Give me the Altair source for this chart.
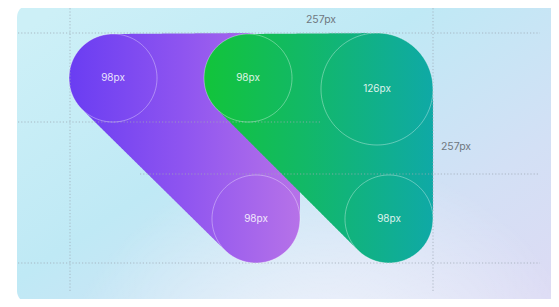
import numpy as np
import pandas as pd
import altair as alt

# ---- visible window of the reference (pixel units) ----
X_DOMAIN = [8, 551]
Y_DOMAIN = [8, 299]

# ---- background card ----
card_x1, card_x2 = [17], [575]
card_y1, card_y2 = [5], [303]

# ---- shapes: circles whose hull forms each rounded shape ----
purple_cx = [113, 244, 256]
purple_cy = [78, 89, 219]
purple_r = [44, 56, 44]

green_cx = [248, 377, 389]
green_cy = [78, 89, 219]
green_r = [44, 56, 44]

# ---- annotated circle outlines ----
ring_cx = [113, 256, 248, 377, 389]
ring_cy = [78, 219, 78, 89, 219]
ring_r = [44, 44, 44, 56, 44]
ring_labels = ["98px", "98px", "98px", "126px", "98px"]

# ---- dimension labels ----
dim_labels = ["257px", "257px"]
dim_x = [321, 456]
dim_y = [20, 147]

# ---- dotted guide lines ----
hline_y = [33, 122, 174, 263]
hline_x1 = [18, 18, 140, 18]
hline_x2 = [540, 322, 540, 540]
vline_x = [70, 433]
vline_y1 = [5, 5]
vline_y2 = [292, 292]


def hull_band(cx, cy, r, n=720, m=500):
    pts = []
    t = np.linspace(0, 2 * np.pi, n, endpoint=False)
    for a, b, c in zip(cx, cy, r):
        pts += list(zip(np.round(a + c * np.cos(t), 6), np.round(b + c * np.sin(t), 6)))
    pts = sorted(set(pts))

    def cross(o, a, b):
        return (a[0] - o[0]) * (b[1] - o[1]) - (a[1] - o[1]) * (b[0] - o[0])

    lower, upper = [], []
    for p in pts:
        while len(lower) >= 2 and cross(lower[-2], lower[-1], p) <= 0:
            lower.pop()
        lower.append(p)
    for p in reversed(pts):
        while len(upper) >= 2 and cross(upper[-2], upper[-1], p) <= 0:
            upper.pop()
        upper.append(p)
    upper = upper[::-1]
    lx = np.array([p[0] for p in lower]); ly = np.array([p[1] for p in lower])
    ux = np.array([p[0] for p in upper]); uy = np.array([p[1] for p in upper])
    xmin, xmax = pts[0][0], pts[-1][0]
    xs = np.linspace(xmin + 1e-3, xmax - 1e-3, m)
    a = np.interp(xs, lx, ly)
    b = np.interp(xs, ux, uy)
    return pd.DataFrame({"x": xs, "y": np.minimum(a, b), "y2": np.maximum(a, b)})


purple_df = hull_band(purple_cx, purple_cy, purple_r)
green_df = hull_band(green_cx, green_cy, green_r)

ring_rows = []
ang = np.linspace(0, 2 * np.pi, 181)
for i, (a, b, c) in enumerate(zip(ring_cx, ring_cy, ring_r)):
    for k, t in enumerate(ang):
        ring_rows.append({"id": i, "k": k, "x": a + c * np.cos(t), "y": b + c * np.sin(t)})
ring_df = pd.DataFrame(ring_rows)
ring_lab_df = pd.DataFrame({"x": ring_cx, "y": ring_cy, "t": ring_labels})
dim_df = pd.DataFrame({"x": dim_x, "y": dim_y, "t": dim_labels})
hl_df = pd.DataFrame({"y": hline_y, "x": hline_x1, "x2": hline_x2})
vl_df = pd.DataFrame({"x": vline_x, "y": vline_y1, "y2": vline_y2})
card_df = pd.DataFrame({"x": card_x1, "x2": card_x2, "y": card_y1, "y2": card_y2})

xs = alt.Scale(domain=X_DOMAIN, nice=False, zero=False)
ys = alt.Scale(domain=Y_DOMAIN, nice=False, zero=False, reverse=True)
X = lambda f="x": alt.X(f"{f}:Q", scale=xs, axis=None)
Y = lambda f="y": alt.Y(f"{f}:Q", scale=ys, axis=None)


def grad(stops, x1=0, y1=0, x2=1, y2=0):
    return alt.Gradient(
        gradient="linear",
        stops=[alt.GradientStop(color=c, offset=o) for o, c in stops],
        x1=x1, y1=y1, x2=x2, y2=y2,
    )


card = alt.Chart(card_df).mark_rect(
    cornerRadius=12,
    color=grad([(0, "#cdf0f7"), (0.4, "#bfe9f5"), (0.75, "#d3e0f5"), (1, "#dcdbf4")], 0, 0.1, 1, 0.9),
).encode(x=X(), x2="x2:Q", y=Y(), y2="y2:Q")

glow = alt.Chart(card_df).mark_rect(
    cornerRadius=12,
    color=alt.Gradient(
        gradient="radial",
        stops=[
            alt.GradientStop(color="rgba(255,255,255,0.85)", offset=0),
            alt.GradientStop(color="rgba(255,255,255,0.45)", offset=0.5),
            alt.GradientStop(color="rgba(255,255,255,0)", offset=1),
        ],
        x1=0.55, y1=1.0, r1=0, x2=0.55, y2=1.0, r2=0.5,
    ),
).encode(x=X(), x2="x2:Q", y=Y(), y2="y2:Q")

purple = alt.Chart(purple_df).mark_area(
    color=grad([(0, "#6a3df2"), (0.5, "#8f55f0"), (1, "#b672e8")]),
).encode(x=X(), y=Y(), y2="y2:Q")

green = alt.Chart(green_df).mark_area(
    color=grad([(0, "#12c43a"), (0.45, "#12b868"), (1, "#0fa9a6")]),
).encode(x=X(), y=Y(), y2="y2:Q")

hl = alt.Chart(hl_df).mark_rule(
    color="#9ea8b4", strokeDash=[1.2, 2], strokeWidth=1, opacity=0.75
).encode(x=X(), x2="x2:Q", y=Y())

vl = alt.Chart(vl_df).mark_rule(
    color="#9ea8b4", strokeDash=[1.2, 2], strokeWidth=1, opacity=0.75
).encode(x=X(), y=Y(), y2="y2:Q")

rings = alt.Chart(ring_df).mark_line(
    color="white", strokeWidth=1, opacity=0.35
).encode(x=X(), y=Y(), detail="id:N", order="k:Q")

ring_text = alt.Chart(ring_lab_df).mark_text(
    color="white", opacity=0.85, fontSize=10, font="Inter"
).encode(x=X(), y=Y(), text="t:N")

dim_text = alt.Chart(dim_df).mark_text(
    color="#6f7780", fontSize=10.5, font="Inter"
).encode(x=X(), y=Y(), text="t:N")

chart = alt.layer(card, glow, purple, green, hl, vl, rings, ring_text, dim_text).properties(
    width=543, height=291, padding=0, autosize="none", background="white"
).configure_view(stroke=None)

chart.save("out.html", embed_options={"renderer": "svg", "actions": False})
